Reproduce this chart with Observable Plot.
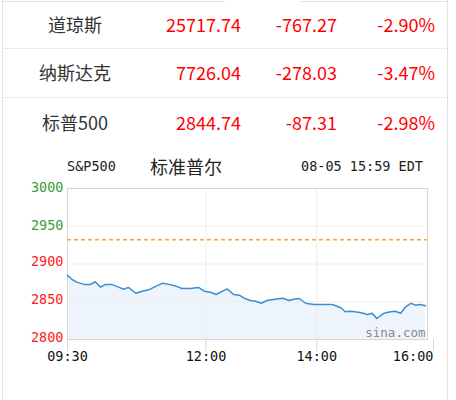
<!DOCTYPE html>
<html>
<head>
<meta charset="utf-8">
<script src="https://cdn.jsdelivr.net/npm/d3@7"></script>
<script src="https://cdn.jsdelivr.net/npm/@observablehq/plot@0.6"></script>
<style>
  html, body { margin: 0; padding: 0; background: #fff; }
  body { width: 456px; height: 400px; position: relative; overflow: hidden; font-family: "Noto Sans CJK SC", "Noto Sans", sans-serif; }
  .abs { position: absolute; }
  .frame { left: 2px; top: 0; width: 446px; height: 400px; border-left: 1px solid #e4e4e4; border-right: 1px solid #e4e4e4; box-sizing: border-box; }
  .topline { top: 1px; height: 0; border-top: 1px solid #e0e0e0; }
  .sep { left: 3px; width: 445px; height: 0; border-top: 1px dotted #d8d8d8; }
  .name { width: 120px; left: 15px; text-align: center; font-size: 18px; color: #333; line-height: 24px; }
  .num { text-align: right; font-size: 18px; color: #f00; line-height: 24px; }
  .mono { font-family: "DejaVu Sans Mono", monospace; font-size: 13.5px; color: #222; line-height: 16px; }
  #chart { left: 0; top: 175px; }
</style>
</head>
<body>
<div class="abs frame"></div>
<div class="abs topline" style="left:2px;width:223px"></div>
<div class="abs topline" style="left:300px;width:148px"></div>
<div class="abs sep" style="top:48px"></div>
<div class="abs sep" style="top:97px"></div>
<div id="table"></div>
<div class="abs mono" style="left:67px;top:158px">S&amp;P500</div>
<div class="abs" style="left:150px;top:154px;font-size:18px;line-height:24px;color:#222">标准普尔</div>
<div class="abs mono" style="left:290px;top:158px;width:133px;text-align:right">08-05 15:59 EDT</div>
<div id="chart" class="abs"></div>
<script>
// ---- table data ----
const indexNames = ["道琼斯", "纳斯达克", "标普500"];
const indexPrices = ["25717.74", "7726.04", "2844.74"];
const indexChanges = ["-767.27", "-278.03", "-87.31"];
const indexPercents = ["-2.90%", "-3.47%", "-2.98%"];

// ---- chart data ----
const prevClose = 2932.05;
const times = ["09:30","09:35","09:40","09:48","09:55","10:00","10:06","10:11","10:18","10:26",
  "10:31","10:36","10:44","10:51","10:58","11:05","11:13","11:20","11:27","11:34",
  "11:43","11:52","11:58","12:05","12:11","12:18","12:23","12:30","12:36","12:41",
  "12:48","12:54","13:00","13:06","13:15","13:23","13:30","13:35","13:41","13:48",
  "13:57","14:00","14:17","14:26","14:31","14:37","14:47","14:55","15:00","15:05",
  "15:13","15:20","15:25","15:31","15:36","15:42","15:47","15:52","15:58"];
const prices = [2885,2879.5,2876,2873,2873,2876.5,2869.3,2873,2873,2869,
  2866.6,2869,2861.3,2864,2865.8,2870,2874.6,2873,2871,2867.5,
  2867.5,2869,2864,2862.6,2859.6,2864,2867,2859.6,2858.7,2855,
  2851.7,2850.7,2848,2851.7,2853.4,2854.7,2851.7,2853.4,2854.3,2848,
  2846.4,2846.4,2846.4,2842,2836.7,2837.5,2835.8,2833,2834.8,2827.8,
  2834.8,2836.7,2837.5,2834.8,2842.8,2848,2845.5,2846.4,2844.74];
const yTicksUp = [3000, 2950];
const yTicksDown = [2900, 2850, 2800];
const xTickLabels = ["09:30", "12:00", "14:00", "16:00"];
const gridTimes = ["12:00", "14:00"];
const watermark = "sina.com";

// ---- table ----
const rowTops = [12, 60, 110];
const tbl = document.getElementById("table");
indexNames.forEach((n, i) => {
  const t = rowTops[i];
  tbl.insertAdjacentHTML("beforeend",
    `<div class="abs name" style="top:${t}px">${n}</div>` +
    `<div class="abs num" style="top:${t}px;left:140px;width:101px">${indexPrices[i]}</div>` +
    `<div class="abs num" style="top:${t}px;left:240px;width:97px">${indexChanges[i]}</div>` +
    `<div class="abs num" style="top:${t}px;left:340px;width:95px">${indexPercents[i]}</div>`);
});

// ---- chart ----
const toMin = s => { const [h, m] = s.split(":").map(Number); return h * 60 + m - 570; };
const data = times.map((t, i) => ({t: toMin(t), v: prices[i]}));
const xt = xTickLabels.map(toMin);

const chart = Plot.plot({
  width: 456,
  height: 200,
  marginLeft: 67,
  marginRight: 29,
  marginTop: 13,
  marginBottom: 36,
  style: {fontFamily: "DejaVu Sans Mono, monospace", fontSize: "13.5px", background: "transparent"},
  x: {domain: [0, 390]},
  y: {domain: [2800, 3000]},
  marks: [
    Plot.areaY(data, {x: "t", y1: 2800, y2: "v", fill: "#eef4fb"}),
    Plot.gridY([2850, 2900, 2950], {stroke: "#eeeeee", strokeOpacity: 1}),
    Plot.gridX(gridTimes.map(toMin), {stroke: "#eeeeee", strokeOpacity: 1}),
    Plot.frame({stroke: "#d6d6d6"}),
    Plot.ruleY([prevClose], {stroke: "#f5a431", strokeWidth: 1.5, strokeDasharray: "4,3"}),
    Plot.lineY(data, {x: "t", y: "v", stroke: "#3a8fd4", strokeWidth: 1.5}),
    Plot.text([watermark], {frameAnchor: "bottom-right", dx: -2, dy: -3, fill: "#8a8a8a", fontSize: 12.5}),
    Plot.axisX(xt.slice(0, 3), {tickSize: 12, tickPadding: 0, stroke: "#d6d6d6", fill: "#111",
      tickFormat: (d, i) => xTickLabels[i], label: null}),
    Plot.axisX(xt.slice(3), {tickSize: 12, tickPadding: 0, stroke: "#d6d6d6", fill: "#111",
      textAnchor: "end", dx: 6, tickFormat: () => xTickLabels[3], label: null}),
    Plot.axisY(yTicksUp, {tickSize: 0, tickPadding: 4, fill: "#3c9a3c", dy: -1, label: null, tickFormat: d => String(d)}),
    Plot.axisY(yTicksDown, {tickSize: 0, tickPadding: 4, fill: "#ff1a1a", dy: -2, label: null, tickFormat: d => String(d)})
  ]
});
document.getElementById("chart").appendChild(chart);
</script>
</body>
</html>
